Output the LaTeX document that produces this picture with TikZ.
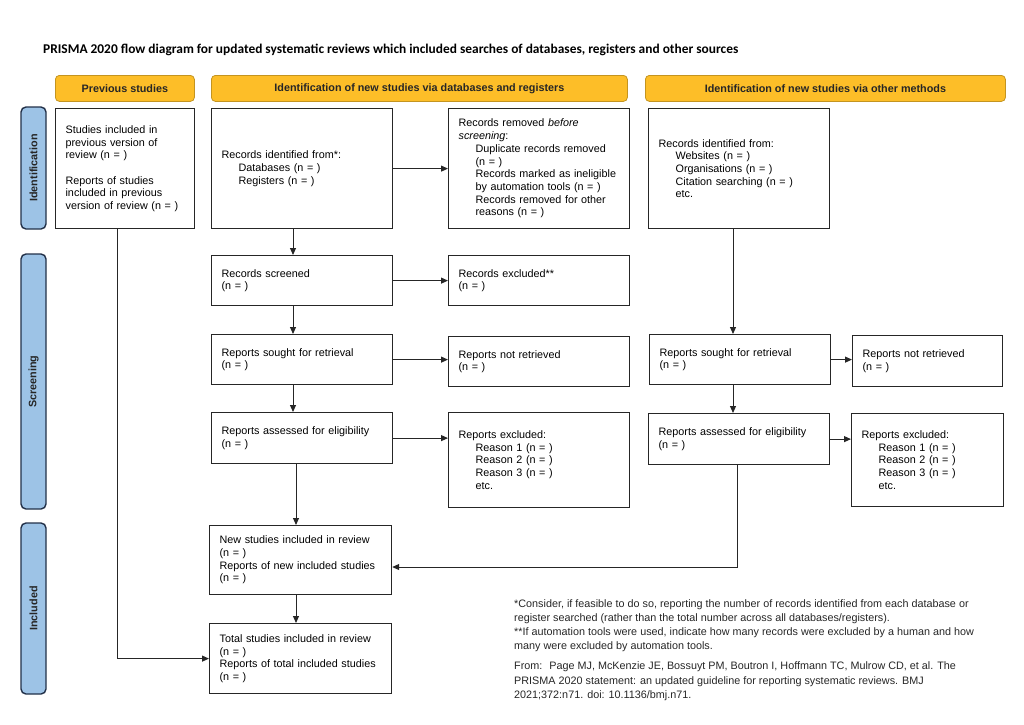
\documentclass[tikz,border=0pt]{standalone}
\usepackage{fontspec}
\setmainfont{Liberation Sans}
\newfontfamily\titlefont{Carlito}
\usetikzlibrary{arrows.meta}
\definecolor{hdrfill}{RGB}{253,190,40}
\definecolor{hdrline}{RGB}{196,148,32}
\definecolor{sidefill}{RGB}{157,195,230}
\definecolor{sideline}{RGB}{34,48,72}
\newcommand{\boxfont}{\fontsize{10.8}{12.7}\selectfont}
\newcommand{\ind}{\hspace*{17pt}}
\tikzset{
  box/.style={draw=black!85, line width=1.2pt, anchor=north west, align=left, text width=161pt, inner xsep=10pt, inner ysep=0pt, font=\boxfont},
  header/.style={draw=hdrline, fill=hdrfill, line width=0.8pt, rounded corners=4pt, anchor=north west, minimum height=26pt, inner sep=0pt, text=black!85, font=\boxfont\bfseries},
  side/.style={draw=sideline, fill=sidefill, line width=1.4pt, rounded corners=5pt, rotate=90, minimum height=25pt, inner sep=0pt, text=black!85, font=\boxfont\bfseries},
  arr/.style={line width=1pt, black!85, -{Triangle[length=7pt,width=6pt]}}
}
\begin{document}
\begin{tikzpicture}[x=1pt,y=-1pt]
    \useasboundingbox (0,0) rectangle (1024,724);
    \node[anchor=base west, inner sep=0pt, font={\titlefont\fontsize{13.4}{16}\selectfont\bfseries}] (title) at (43,53.5) {PRISMA 2020 flow diagram for updated systematic reviews which included searches of databases, registers and other sources};

    \node[header, minimum width=139pt] (hdrprev) at (55,75) {Previous studies};
    \node[header, minimum width=416pt] (hdrdb) at (211,75) {Identification of new studies via databases and registers};
    \node[header, minimum width=360pt] (hdrother) at (645,75) {Identification of new studies via other methods};

    \node[side, minimum width=122pt] (sideid) at (33.5,168) {Identification};
    \node[side, minimum width=255pt] (sidescr) at (33.5,381.5) {Screening};
    \node[side, minimum width=171pt] (sideinc) at (33.5,608.5) {Included};

    \node[box, text width=119pt, minimum height=120pt] (prev) at (55,108) {Studies included in\\previous version of\\review (n = )\\[12.7pt]Reports of studies\\included in previous\\version of review (n = )};
    \node[box, minimum height=120pt] (dbid) at (211,108) {Records identified from*:\\\ind Databases (n = )\\\ind Registers (n = )};
    \node[box, minimum height=120pt] (removed) at (448,108) {Records removed \textit{before}\\\textit{screening}:\\\ind Duplicate records removed\\\ind (n = )\\\ind Records marked as ineligible\\\ind by automation tools (n = )\\\ind Records removed for other\\\ind reasons (n = )};
    \node[box, minimum height=120pt] (otherid) at (648,108) {Records identified from:\\\ind Websites (n = )\\\ind Organisations (n = )\\\ind Citation searching (n = )\\\ind etc.};

    \node[box, minimum height=50pt] (screened) at (211,255) {Records screened\\(n = )};
    \node[box, minimum height=50pt] (excluded) at (448,255) {Records excluded**\\(n = )};

    \node[box, minimum height=50pt] (sought) at (211,334) {Reports sought for retrieval\\(n = )};
    \node[box, minimum height=50pt] (notretr) at (448,336) {Reports not retrieved\\(n = )};
    \node[box, minimum height=50pt] (osought) at (649,334) {Reports sought for retrieval\\(n = )};
    \node[box, text width=130pt, minimum height=51pt] (onotretr) at (852,335) {Reports not retrieved\\(n = )};

    \node[box, minimum height=51pt] (assessed) at (211,412) {Reports assessed for eligibility\\(n = )};
    \node[box, minimum height=95pt] (rptexcl) at (448,412) {Reports excluded:\\\ind Reason 1 (n = )\\\ind Reason 2 (n = )\\\ind Reason 3 (n = )\\\ind etc.};
    \node[box, minimum height=51pt] (oassessed) at (648,413) {Reports assessed for eligibility\\(n = )};
    \node[box, text width=132pt, minimum height=93pt] (oexcl) at (851,413) {Reports excluded:\\\ind Reason 1 (n = )\\\ind Reason 2 (n = )\\\ind Reason 3 (n = )\\\ind etc.};

    \node[box, text width=162pt, minimum height=69pt] (newincl) at (209,525) {New studies included in review\\(n = )\\Reports of new included studies\\(n = )};
    \node[box, text width=162pt, minimum height=70pt] (total) at (209,623) {Total studies included in review\\(n = )\\Reports of total included studies\\(n = )};

    \node[anchor=north west, align=left, inner sep=0pt, text=black!85, font=\fontsize{10.8}{14.3}\selectfont] (notes) at (514,599) {*Consider, if feasible to do so, reporting the number of records identified from each database or\\register searched (rather than the total number across all databases/registers).\\**If automation tools were used, indicate how many records were excluded by a human and how\\many were excluded by automation tools.\\[5.7pt]From:~ Page MJ, McKenzie JE, Bossuyt PM, Boutron I, Hoffmann TC, Mulrow CD, et al. The\\PRISMA 2020 statement: an updated guideline for reporting systematic reviews. BMJ\\2021;372:n71. doi: 10.1136/bmj.n71.};

    \coordinate (colP) at (117,0);
    \coordinate (colA) at (293,0);
    \coordinate (colB) at (296,0);
    \coordinate (colC) at (733,0);
    \coordinate (colD) at (737,0);
    \coordinate (joint) at (737,567);

    \draw[arr] (dbid.south -| colA) -- (screened.north -| colA);
    \draw[arr] (dbid.east) -- (dbid.east -| removed.west);
    \draw[arr] (screened.east) -- (screened.east -| excluded.west);
    \draw[arr] (screened.south -| colA) -- (sought.north -| colA);
    \draw[arr] (sought.east) -- (sought.east -| notretr.west);
    \draw[arr] (sought.south -| colA) -- (assessed.north -| colA);
    \draw[arr] (assessed.east) -- (assessed.east -| rptexcl.west);
    \draw[arr] (assessed.south -| colB) -- (newincl.north -| colB);
    \draw[arr] (newincl.south -| colB) -- (total.north -| colB);
    \draw[arr] (prev.south -| colP) |- (total.west);
    \draw[arr] (otherid.south -| colC) -- (osought.north -| colC);
    \draw[arr] (osought.east) -- (osought.east -| onotretr.west);
    \draw[arr] (osought.south -| colC) -- (oassessed.north -| colC);
    \draw[arr] (oassessed.east) -- (oassessed.east -| oexcl.west);
    \draw[arr] (oassessed.south -| colD) -- (joint) -- (joint -| newincl.east);
\end{tikzpicture}
\end{document}
